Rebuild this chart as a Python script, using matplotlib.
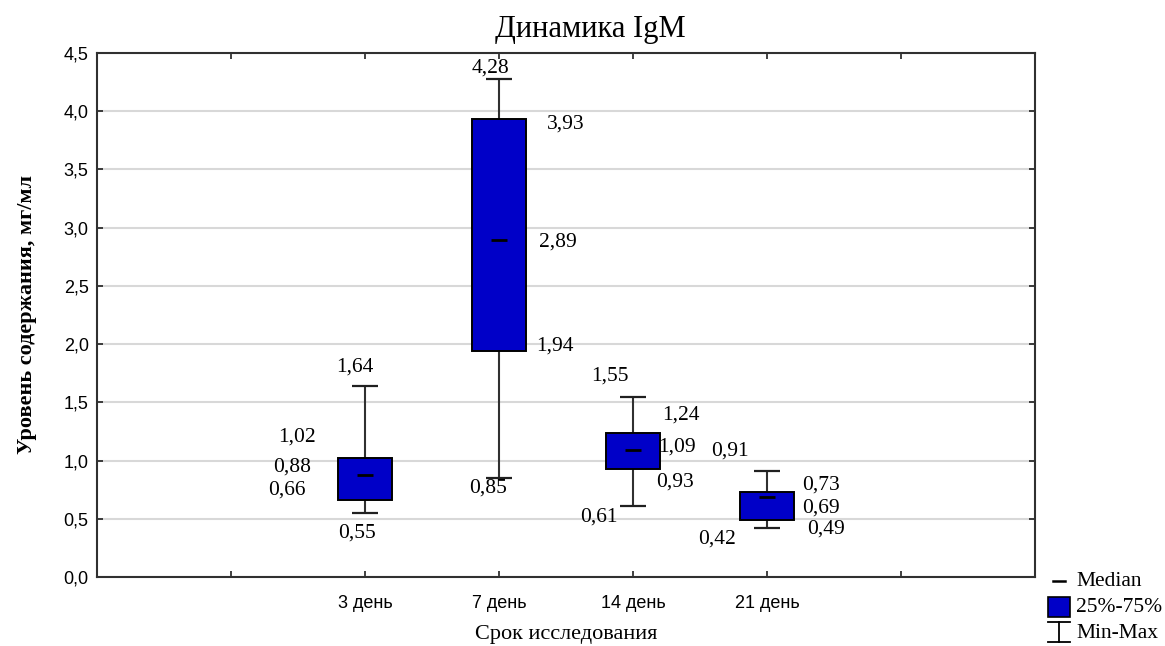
import matplotlib
matplotlib.use("Agg")
import matplotlib.pyplot as plt
from matplotlib.ticker import FuncFormatter, MultipleLocator, FixedLocator
from matplotlib.lines import Line2D
from matplotlib.patches import Rectangle

# ---- data ----
categories = ['3 день', '7 день', '14 день', '21 день']
mins = [0.55, 0.85, 0.61, 0.42]
q1 = [0.66, 1.94, 0.93, 0.49]
medians = [0.88, 2.89, 1.09, 0.69]
q3 = [1.02, 3.93, 1.24, 0.73]
maxs = [1.64, 4.28, 1.55, 0.91]

# label offsets (pixels) relative to (category, value): order min, q1, median, q3, max
offsets = [
    [(-8, -20), (-78, 10), (-73, 7), (-68, 21), (-10, 19)],
    [(-11, -10), (56, 5), (59, -2), (67, -5), (-9, 11)],
    [(-34, -11), (42, -13), (44, 3), (48, 18), (-23, 20)],
    [(-50, -11), (59, -9), (54, -11), (54, 7), (-37, 20)],
]

serif = ['Liberation Serif', 'DejaVu Serif']
sans = ['Liberation Sans', 'DejaVu Sans']

fig = plt.figure(figsize=(11.65, 6.46), dpi=100)
ax = fig.add_axes([97/1165, 69/646, 938/1165, 524/646])

xs = [i + 2 for i in range(len(categories))]
box_w = 0.41
cap_w = 0.2
box_color = '#0000C8'

for x, lo, a, m, b, hi in zip(xs, mins, q1, medians, q3, maxs):
    ax.vlines(x, lo, a, color='#303030', lw=1.5, zorder=2)
    ax.vlines(x, b, hi, color='#303030', lw=1.5, zorder=2)
    ax.hlines([lo, hi], x - cap_w/2, x + cap_w/2, color='#202020', lw=1.6, zorder=2)
ax.bar(xs, [b - a for a, b in zip(q1, q3)], bottom=q1, width=box_w,
       color=box_color, edgecolor='black', linewidth=1.4, zorder=3)
ax.plot(xs, medians, linestyle='none', marker='_', markersize=11,
        markeredgewidth=2, color='black', zorder=4)

def fmt(v):
    return f'{v:.2f}'.replace('.', ',')

for i, x in enumerate(xs):
    vals = [mins[i], q1[i], medians[i], q3[i], maxs[i]]
    for v, (dx, dy) in zip(vals, offsets[i]):
        ax.annotate(fmt(v), xy=(x, v), xytext=(dx, dy), textcoords='offset pixels',
                    ha='center', va='center', fontsize=15.5, family=serif, color='black',
                    zorder=5)

ax.set_xlim(0, 7)
ax.set_ylim(0, 4.5)
ax.yaxis.set_major_locator(MultipleLocator(0.5))
ax.yaxis.set_major_formatter(FuncFormatter(lambda v, p: f'{v:.1f}'.replace('.', ',')))
ax.xaxis.set_major_locator(FixedLocator([1, 2, 3, 4, 5, 6]))
ax.set_xticklabels(['', *categories, ''])
ax.tick_params(axis='both', direction='in', length=4, width=1.2, color='#202020',
               labelsize=13, top=True, right=True)
ax.tick_params(axis='x', pad=13)
ax.tick_params(axis='y', pad=6)
for lab in ax.get_xticklabels() + ax.get_yticklabels():
    lab.set_family(sans)
ax.grid(axis='y', color='#d8d8d8', lw=1.5, zorder=0)
ax.set_axisbelow(True)
for s in ax.spines.values():
    s.set_linewidth(1.5)
    s.set_color('#303030')

fig.text(590/1165, 1 - 30/646, 'Динамика IgM', fontsize=22, family=serif,
         ha='center', va='center')
fig.text(566/1165, 1 - 634/646, 'Срок исследования', fontsize=16, family=serif,
         ha='center', va='center')
ax.set_ylabel('Уровень содержания, мг/мл', fontsize=16, family=serif,
              fontweight='bold', labelpad=19)

# ---- legend (drawn in figure pixels) ----
def fx(px):
    return px / 1165
def fy(py):
    return 1 - py / 646

fig.add_artist(Line2D([fx(1053), fx(1065)], [fy(581), fy(581)], color='black', lw=1.8))
fig.add_artist(Rectangle((fx(1048), fy(617)), fx(22), 20/646, facecolor=box_color,
                         edgecolor='black', lw=1.2))
fig.add_artist(Line2D([fx(1059), fx(1059)], [fy(622), fy(642)], color='black', lw=1.3))
fig.add_artist(Line2D([fx(1048), fx(1070)], [fy(622), fy(622)], color='black', lw=1.3))
fig.add_artist(Line2D([fx(1048), fx(1070)], [fy(642), fy(642)], color='black', lw=1.3))
for py, t in [(582, 'Median'), (608, '25%-75%'), (634, 'Min-Max')]:
    fig.text(fx(1076), fy(py), t, fontsize=15.5, family=serif, va='center', ha='left')

fig.savefig('out.png', dpi=100)
